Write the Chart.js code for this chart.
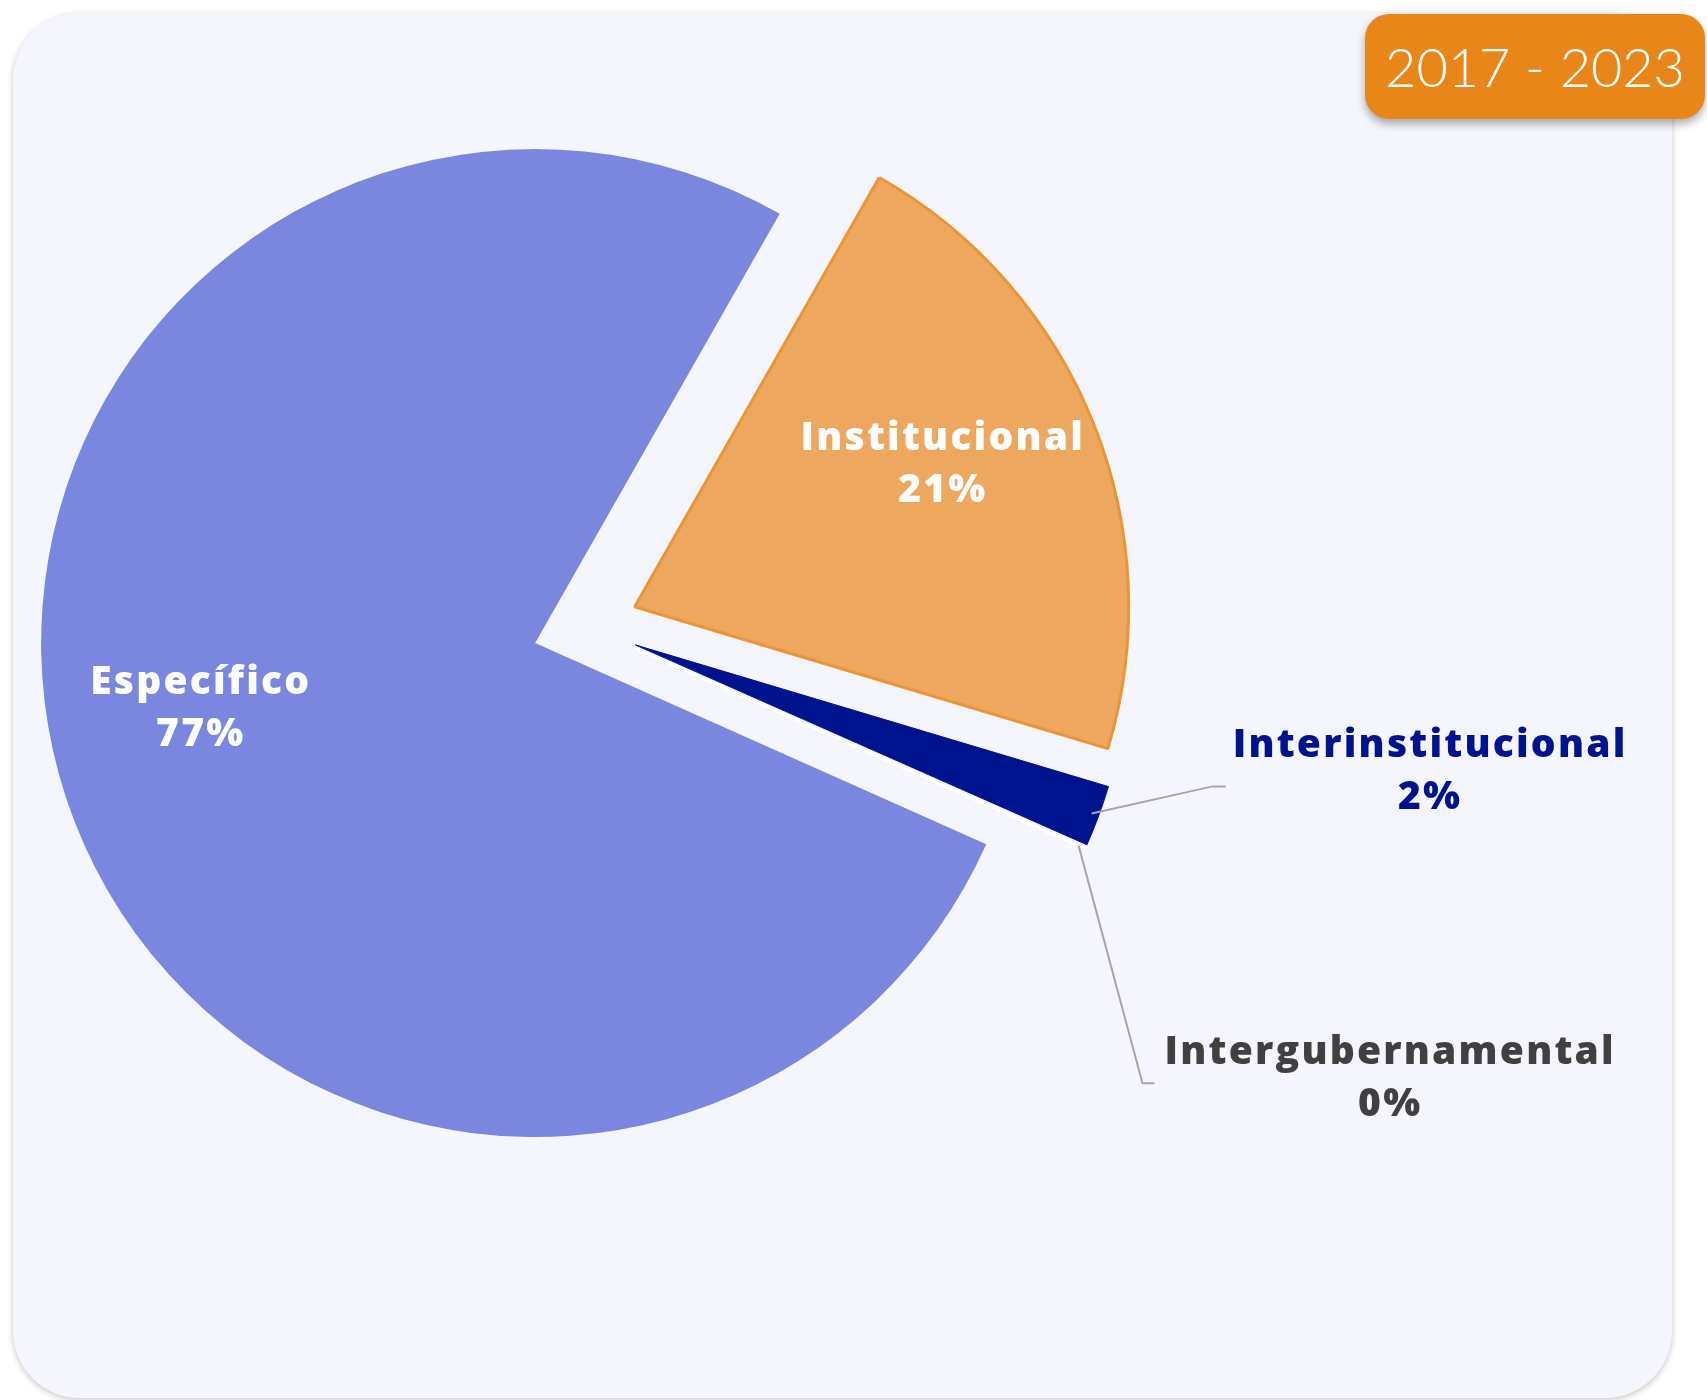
<!DOCTYPE html>
<html>
<head>
<meta charset="utf-8">
<script src="https://cdn.jsdelivr.net/npm/chart.js@4.4.1/dist/chart.umd.min.js"></script>
<style>
  html, body { margin: 0; padding: 0; background: #ffffff; width: 1707px; height: 1400px; overflow: hidden; }
  #card { position: absolute; left: 13px; top: 13px; width: 1659px; height: 1385px; background: #F5F6FD;
          border-radius: 67px; box-shadow: 0 2px 6px rgba(0,0,0,0.22); }
  #chart { position: absolute; left: 0; top: 0; }
  #badge { position: absolute; left: 1365px; top: 14px; width: 340px; height: 105px; background: #E8861A;
           border-radius: 24px; box-shadow: 0 5px 9px rgba(0,0,0,0.32); color: #ffffff;
           font: 300 54px Lato, "Open Sans", sans-serif; display: flex; align-items: center; justify-content: center; }
</style>
</head>
<body>
<div id="card"></div>
<canvas id="chart" width="1707" height="1400"></canvas>
<div id="badge">2017 - 2023</div>
<script>
// ---- data ----
const categories = ["Específico", "Institucional", "Interinstitucional", "Intergubernamental"];
const shares = [76.6, 21.4, 2.0, 0.05];
const periodLabel = "2017 - 2023";

// ---- styles ----
const fillColors   = ["#7B87DF", "#EEA75E", "#00138F", "#FFFFFF"];
const borderColors = ["#7B87DF", "#EC9534", "#00138F", "#FFFFFF"];
const borderWidths = [0, 3, 1, 2];
const EXPLODE = 53;           // every slice pulled out from the centre by this many px
const LABEL_FONT = '800 39px "Open Sans", "Noto Sans", sans-serif';
const LINE_GAP = 52;
// label placement: inside -> polar around the slice's own (exploded) centre; outside -> polar around chart centre
const labelPlacement = [
  { inside: true,  angle: 258.8,  dist: 0.690, color: "#FFFFFF" },
  { inside: true,  angle: 65.2,   dist: 0.687, color: "#FFFFFF" },
  { inside: false, angle: 99.8,   dist: 1.735, color: "#00138F", lineDy: 14, gap: 7,  elbow: 13 },
  { inside: false, angle: 119.36, dist: 1.869, color: "#404040", lineDy: 4,  gap: 10, elbow: 12 }
];

// explode every arc uniformly along its mid-angle (no radius growth)
const ArcEl = Chart.ArcElement || Chart.elements.ArcElement;
const baseArcDraw = ArcEl.prototype.draw;
ArcEl.prototype.draw = function (ctx, area) {
  const mid = (this.startAngle + this.endAngle) / 2;
  ctx.save();
  ctx.translate(Math.cos(mid) * EXPLODE, Math.sin(mid) * EXPLODE);
  baseArcDraw.call(this, ctx, area);
  ctx.restore();
};

const labelPlugin = {
  id: 'sliceLabels',
  afterDatasetsDraw(chart) {
    const ctx = chart.ctx;
    const meta = chart.getDatasetMeta(0);
    const values = chart.data.datasets[0].data;
    const total = values.reduce((a, b) => a + b, 0);
    ctx.save();
    ctx.font = LABEL_FONT;
    if ('letterSpacing' in ctx) ctx.letterSpacing = '2.2px';
    ctx.textAlign = 'center';
    ctx.textBaseline = 'middle';
    meta.data.forEach((arc, i) => {
      const p = labelPlacement[i];
      const mid = (arc.startAngle + arc.endAngle) / 2;
      const R = arc.outerRadius;
      const ex = arc.x + Math.cos(mid) * EXPLODE;
      const ey = arc.y + Math.sin(mid) * EXPLODE;
      const phi = (p.angle - 90) * Math.PI / 180;
      const ox = p.inside ? ex : arc.x;
      const oy = p.inside ? ey : arc.y;
      const cx = ox + Math.cos(phi) * R * p.dist;
      const cy = oy + Math.sin(phi) * R * p.dist;
      const line1 = categories[i];
      const line2 = Math.round(values[i] / total * 100) + '%';
      if (!p.inside) {
        const w = ctx.measureText(line1).width;
        const endX = cx - w / 2 - p.gap;
        const endY = cy + p.lineDy;
        const sx = ex + Math.cos(mid) * R * 0.985;
        const sy = ey + Math.sin(mid) * R * 0.985;
        ctx.beginPath();
        ctx.moveTo(sx, sy);
        ctx.lineTo(endX - p.elbow, endY);
        ctx.lineTo(endX, endY);
        ctx.strokeStyle = '#A6A6A6';
        ctx.lineWidth = 2;
        ctx.stroke();
      }
      ctx.fillStyle = p.color;
      ctx.fillText(line1, cx, cy - LINE_GAP / 2);
      ctx.fillText(line2, cx, cy + LINE_GAP / 2);
    });
    ctx.restore();
  }
};

new Chart(document.getElementById('chart').getContext('2d'), {
  type: 'pie',
  data: {
    labels: categories,
    datasets: [{
      data: shares,
      backgroundColor: fillColors,
      borderColor: borderColors,
      borderWidth: borderWidths,
      clip: false
    }]
  },
  options: {
    responsive: false,
    animation: false,
    events: [],
    rotation: 114.05,
    radius: 494,
    layout: { padding: { left: 0, top: 0, right: 536, bottom: 147 } },
    plugins: { legend: { display: false }, tooltip: { enabled: false } }
  },
  plugins: [labelPlugin]
});
</script>
</body>
</html>
